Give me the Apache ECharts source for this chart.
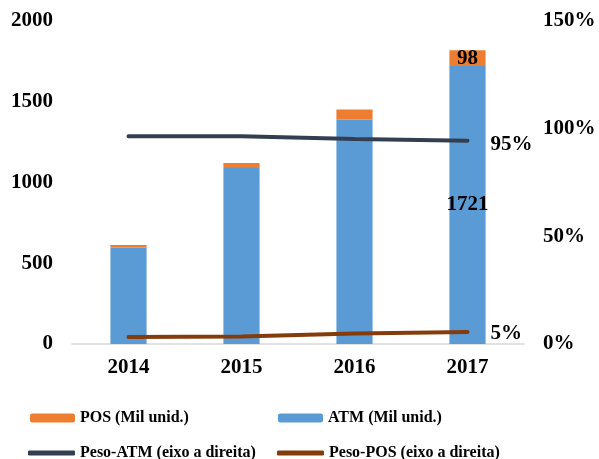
<!DOCTYPE html>
<html><head><meta charset="utf-8">
<script src="https://cdn.jsdelivr.net/npm/echarts@6/dist/echarts.min.js"></script>
<style>html,body{margin:0;padding:0;background:#fff}#c{width:599px;height:459px}</style>
</head><body><div id="c"></div>
<script>
const categories = ['2014','2015','2016','2017'];
const atm = [598, 1090, 1390, 1721];
const pos = [15, 30, 62, 98];
const pesoATM = [96.5, 96.5, 95.2, 94.4];
const pesoPOS = [3.3, 3.5, 4.9, 5.6];
const pesoLabels = ['95%', '5%'];
const leftTicks = [0, 2000, 500];
const rightTicks = [0, 150, 50];

const F = 'Liberation Serif, Times New Roman, serif';
const last = categories.length - 1;
const chart = echarts.init(document.getElementById('c'));
const lbl = {fontFamily: F, fontWeight: 'bold', color: '#000', fontSize: 21};
const legText = {fontFamily: F, fontWeight: 'bold', fontSize: 16, color: '#000'};
chart.setOption({
  animation: false,
  grid: {left: 72, right: 75, top: 21, bottom: 115},
  legend: [
    {left: 25, top: 405, itemWidth: 45, itemHeight: 9, itemGap: 5, data: ['POS (Mil unid.)'], textStyle: legText},
    {left: 273, top: 405, itemWidth: 45, itemHeight: 9, data: ['ATM (Mil unid.)'], textStyle: legText},
    {left: 23, top: 440, itemWidth: 47, itemHeight: 5, data: [{name: 'Peso-ATM (eixo a direita)', icon: 'roundRect'}], textStyle: legText},
    {left: 272, top: 440, itemWidth: 47, itemHeight: 5, data: [{name: 'Peso-POS (eixo a direita)', icon: 'roundRect'}], textStyle: legText}
  ],
  xAxis: {
    type: 'category', data: categories,
    axisLine: {lineStyle: {color: '#D9D9D9', width: 1.5}},
    axisTick: {show: false},
    axisLabel: {fontFamily: F, fontWeight: 'bold', fontSize: 21, color: '#000', margin: 13}
  },
  yAxis: [
    {type: 'value', min: leftTicks[0], max: leftTicks[1], interval: leftTicks[2],
     splitLine: {show: false}, axisLine: {show: false}, axisTick: {show: false},
     axisLabel: {fontFamily: F, fontWeight: 'bold', fontSize: 21, color: '#000', margin: 19, formatter: v => String(v)}},
    {type: 'value', min: rightTicks[0], max: rightTicks[1], interval: rightTicks[2], position: 'right',
     splitLine: {show: false}, axisLine: {show: false}, axisTick: {show: false},
     axisLabel: {fontFamily: F, fontWeight: 'bold', fontSize: 21, color: '#000', margin: 19, formatter: '{value}%'}}
  ],
  series: [
    {name: 'ATM (Mil unid.)', type: 'bar', stack: 's', barWidth: '32%', itemStyle: {color: '#5B9BD5'},
     data: atm.map((v, i) => i === last ? {value: v, label: {show: true, position: 'inside', ...lbl, formatter: String(v)}} : v)},
    {name: 'POS (Mil unid.)', type: 'bar', stack: 's', itemStyle: {color: '#ED7D31'},
     data: pos.map((v, i) => i === last ? {value: v, label: {show: true, position: 'inside', ...lbl, formatter: String(v)}} : v)},
    {name: 'Peso-ATM (eixo a direita)', type: 'line', yAxisIndex: 1, symbol: 'none',
     lineStyle: {color: '#333F50', width: 4, cap: 'round'}, itemStyle: {color: '#333F50'},
     endLabel: {show: true, ...lbl, distance: 23, offset: [0, 4], formatter: pesoLabels[0]},
     data: pesoATM},
    {name: 'Peso-POS (eixo a direita)', type: 'line', yAxisIndex: 1, symbol: 'none',
     lineStyle: {color: '#843C0C', width: 4, cap: 'round'}, itemStyle: {color: '#843C0C'},
     endLabel: {show: true, ...lbl, distance: 23, offset: [0, 2], formatter: pesoLabels[1]},
     data: pesoPOS}
  ]
});
</script></body></html>
